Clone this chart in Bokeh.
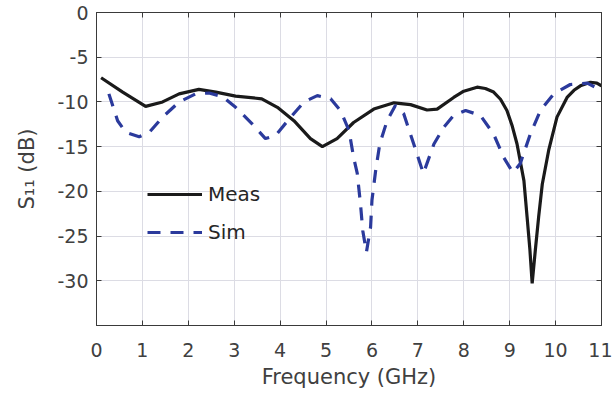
from bokeh.plotting import figure
from bokeh.models import (Range1d, FixedTicker, LinearAxis, Legend, LegendItem,
                          CustomJSTickFormatter)
from bokeh.embed import file_html
from bokeh.resources import INLINE

# ---- data ----
meas_f = [0.1, 0.57, 1.07, 1.44, 1.8, 2.23, 2.6, 3.03, 3.6, 3.94, 4.3, 4.66, 4.92,
          5.24, 5.6, 6.04, 6.48, 6.84, 7.2, 7.42, 7.78, 8.0, 8.29, 8.47, 8.65,
          8.8, 8.94, 9.05, 9.16, 9.31, 9.38, 9.44, 9.49, 9.56, 9.63, 9.71, 9.85,
          10.03, 10.25, 10.4, 10.54, 10.76, 10.9, 11.0]
meas_db = [-7.3, -8.9, -10.5, -10.0, -9.1, -8.6, -8.9, -9.35, -9.65, -10.6, -12.1,
           -14.1, -15.0, -14.1, -12.3, -10.8, -10.1, -10.3, -10.9, -10.8, -9.5,
           -8.8, -8.35, -8.5, -8.9, -9.7, -10.96, -12.6, -14.7, -18.8, -22.9,
           -26.5, -30.3, -26.5, -22.9, -19.2, -15.4, -11.7, -9.5, -8.7, -8.2,
           -7.8, -7.9, -8.2]

sim_f = [0.27, 0.46, 0.64, 0.93, 1.15, 1.44, 1.8, 2.16, 2.45, 2.74, 3.03, 3.39,
         3.68, 3.9, 4.23, 4.52, 4.81, 5.1, 5.32, 5.5, 5.6, 5.68, 5.75, 5.8, 5.88,
         5.97, 6.0, 6.08, 6.17, 6.33, 6.51, 6.69, 6.91, 7.12, 7.35, 7.57, 7.78,
         8.04, 8.36, 8.65, 8.87, 9.07, 9.23, 9.45, 9.67, 9.96, 10.32, 10.69, 11.0]
sim_db = [-9.1, -12.1, -13.4, -13.9, -13.4, -11.7, -10.0, -9.1, -9.0, -9.4, -10.6,
          -12.45, -14.1, -13.75, -11.7, -10.0, -9.3, -9.65, -11.0, -13.2, -16.2,
          -18.0, -21.4, -24.4, -26.8, -24.0, -21.0, -17.7, -14.7, -12.1, -10.4,
          -11.3, -14.7, -18.0, -14.7, -12.8, -11.5, -10.96, -11.5, -13.6, -16.2,
          -17.9, -16.9, -13.6, -10.96, -9.1, -8.05, -7.9, -8.7]

x_ticks = list(range(0, 12))
y_ticks = [-30, -25, -20, -15, -10, -5, 0]

FONT = "DejaVu Sans"
TXT = "#404040"
AX = "#3a3a3a"

p = figure(width=612, height=396, output_backend="svg", toolbar_location=None,
           x_range=Range1d(0, 11), y_range=Range1d(-35, 0),
           min_border_left=96, min_border_right=11, min_border_top=12,
           min_border_bottom=71)
p.outline_line_color = AX
p.outline_line_width = 1

for ax, ticks in ((p.xaxis[0], x_ticks), (p.yaxis[0], y_ticks)):
    ax.ticker = FixedTicker(ticks=ticks)
    ax.major_tick_in = 5
    ax.major_tick_out = 0
    ax.minor_tick_in = 0
    ax.minor_tick_out = 0
    ax.axis_line_color = AX
    ax.major_tick_line_color = AX
    ax.major_label_text_font = FONT
    ax.major_label_text_font_size = "19px"
    ax.major_label_text_color = TXT
    ax.axis_label_text_font = FONT
    ax.axis_label_text_font_size = "21px"
    ax.axis_label_text_font_style = "normal"
    ax.axis_label_text_color = TXT

p.yaxis.formatter = CustomJSTickFormatter(code="return tick.toString()")
p.xaxis.axis_label = "Frequency (GHz)"
p.xaxis.major_label_standoff = 17
p.xaxis.axis_label_standoff = 5
p.yaxis.axis_label = "S\u2081\u2081 (dB)"
p.yaxis.major_label_standoff = 8
p.yaxis.axis_label_standoff = 15

empty = CustomJSTickFormatter(code="return ''")
for loc, ticks in (("right", y_ticks), ("above", x_ticks)):
    a = LinearAxis(ticker=FixedTicker(ticks=ticks), formatter=empty,
                   major_tick_in=5, major_tick_out=0, minor_tick_in=0,
                   minor_tick_out=0, major_label_standoff=0,
                   axis_line_color=AX, major_tick_line_color=AX)
    p.add_layout(a, loc)

p.xgrid.ticker = FixedTicker(ticks=x_ticks)
p.ygrid.ticker = FixedTicker(ticks=y_ticks)
p.grid.grid_line_color = "#dcdce4"
p.grid.grid_line_width = 1

r_meas = p.line(meas_f, meas_db, line_color="#1a1a1a", line_width=3.2)
r_sim = p.line(sim_f, sim_db, line_color="#2b3a9c", line_width=3.2,
               line_dash="13 10")

legend = Legend(items=[LegendItem(label="Meas", renderers=[r_meas]),
                       LegendItem(label="Sim", renderers=[r_sim])],
                location=(51, 81), padding=0, margin=0, spacing=14,
                glyph_width=55, glyph_height=20, label_height=20,
                label_standoff=6, border_line_color=None,
                background_fill_alpha=0,
                label_text_font=FONT, label_text_font_size="20px",
                label_text_color="#262626")
p.add_layout(legend)

open("out.html", "w").write(file_html(p, INLINE))
